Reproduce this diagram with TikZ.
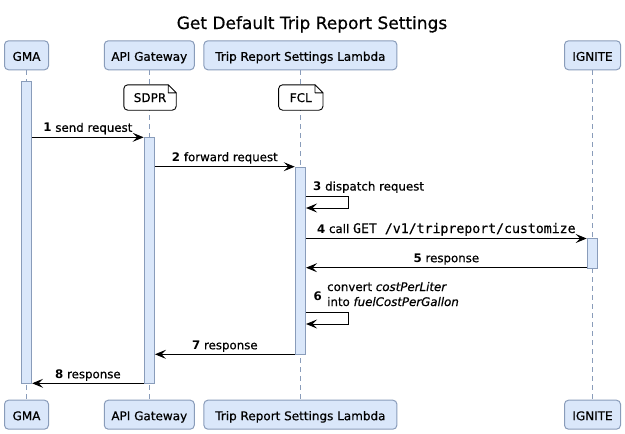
\documentclass[tikz,border=0pt]{standalone}
\usepackage{fontspec}
\setmainfont[FakeBold=0.6,BoldFont={DejaVu Sans Bold},BoldFeatures={FakeBold=0},ItalicFont={DejaVu Sans Oblique},ItalicFeatures={FakeBold=0.6}]{DejaVu Sans}
\setmonofont[FakeBold=0.5]{DejaVu Sans Mono}
\usetikzlibrary{arrows.meta}
\definecolor{pfill}{RGB}{218,231,250}
\definecolor{pline}{RGB}{137,156,186}
\begin{document}
\begin{tikzpicture}[x=1pt,y=-1pt,
  part/.style={draw=pline, fill=pfill, line width=1pt, rounded corners=4pt,
    minimum height=29pt, inner sep=0pt, text height=11pt, text depth=0pt,
    font=\fontsize{12}{14}\selectfont},
  life/.style={draw=pline, line width=0.8pt, dash pattern=on 5pt off 4pt},
  actbar/.style={draw=pline, fill=pfill, line width=0.8pt, minimum width=10.5pt,
    inner sep=0pt, anchor=north},
  msg/.style={draw=black, line width=0.9pt, -{Stealth[length=11pt,width=9pt,inset=4.5pt]}},
  lab/.style={font=\fontsize{11.8}{14}\selectfont, anchor=base, inner sep=0pt},
  notebox/.style={fill=white, inner sep=0pt, minimum height=25pt, text height=9pt,
    text depth=0pt, font=\fontsize{12}{14}\selectfont},
  noteline/.style={draw=black, line width=0.9pt},
]
\useasboundingbox (0,0) rectangle (625,434);

\node[font=\fontsize{17}{20}\selectfont, anchor=base, inner sep=0pt] (title) at (312,29) {Get Default Trip Report Settings};

% participants
\node[part, minimum width=44pt] (gmat) at (26.5,55.3) {GMA};
\node[part, minimum width=90pt] (apit) at (149.3,55.3) {API Gateway};
\node[part, minimum width=193pt] (lamt) at (300.4,55.3) {Trip Report Settings Lambda};
\node[part, minimum width=56pt] (ignt) at (592.5,55.3) {IGNITE};
\node[part, minimum width=44pt] (gmab) at (26.5,414.7) {GMA};
\node[part, minimum width=90pt] (apib) at (149.3,414.7) {API Gateway};
\node[part, minimum width=193pt] (lamb) at (300.4,414.7) {Trip Report Settings Lambda};
\node[part, minimum width=56pt] (ignb) at (592.5,414.7) {IGNITE};

% lifelines
\draw[life] (gmat.south) -- (gmab.north);
\draw[life] (apit.south) -- (apib.north);
\draw[life] (lamt.south) -- (lamb.north);
\draw[life] (ignt.south) -- (ignb.north);

% activation bars
\node[actbar, minimum height=302pt] (gmabar) at (26.5,81) {};
\node[actbar, minimum height=246pt] (apibar) at (149.3,137.3) {};
\node[actbar, minimum height=187.6pt] (lambar) at (300.4,166.7) {};
\node[actbar, minimum height=29.4pt] (ignbar) at (592.3,238.3) {};

% notes
\node[notebox, minimum width=52pt] (sdpr) at (150,97.5) {SDPR};
\draw[noteline, rounded corners=4pt] ([xshift=-8pt]sdpr.north east) -- (sdpr.north west)
  -- (sdpr.south west) -- (sdpr.south east) -- ([yshift=-8pt]sdpr.north east);
\draw[noteline, line join=round] ([xshift=-8pt]sdpr.north east) -- ([yshift=-8pt]sdpr.north east)
  -- ([xshift=-8pt,yshift=-8pt]sdpr.north east) -- cycle;
\node[notebox, minimum width=44pt] (fcl) at (300.8,97.5) {FCL};
\draw[noteline, rounded corners=4pt] ([xshift=-8pt]fcl.north east) -- (fcl.north west)
  -- (fcl.south west) -- (fcl.south east) -- ([yshift=-8pt]fcl.north east);
\draw[noteline, line join=round] ([xshift=-8pt]fcl.north east) -- ([yshift=-8pt]fcl.north east)
  -- ([xshift=-8pt,yshift=-8pt]fcl.north east) -- cycle;

% message rows
\coordinate (r1) at (0,137.3);
\coordinate (r2) at (0,166.7);
\coordinate (r3a) at (348,196);
\coordinate (r3b) at (348,208);
\coordinate (r4) at (0,238.5);
\coordinate (r5) at (0,267.7);
\coordinate (r6a) at (348,312);
\coordinate (r6b) at (348,324);
\coordinate (r7) at (0,354.3);
\coordinate (r8) at (0,383.3);

\draw[msg] (gmabar.east |- r1) -- node[lab, yshift=5.5pt] {\textbf{1} send request} (apibar.west |- r1);
\draw[msg] (apibar.east |- r2) -- node[lab, yshift=5.5pt] {\textbf{2} forward request} (lambar.west |- r2);
\draw[msg] (lambar.east |- r3a) -- (r3a) -- (r3b) -- (lambar.east |- r3b);
\node[lab, anchor=base west] (l3) at (313,190.5) {\textbf{3} dispatch request};
\draw[msg] (lambar.east |- r4) -- node[lab, yshift=5.5pt] {\textbf{4} call {\fontsize{13.2}{14}\ttfamily GET /v1/tripreport/customize}} (ignbar.west |- r4);
\draw[msg] (ignbar.west |- r5) -- node[lab, yshift=5.5pt] {\textbf{5} response} (lambar.east |- r5);
\node[lab, anchor=base west] (l6n) at (313.5,300) {\textbf{6}};
\node[lab, anchor=base west] (l6a) at (327,291) {convert \textit{costPerLiter}};
\node[lab, anchor=base west] (l6b) at (327,306) {into \textit{fuelCostPerGallon}};
\draw[msg] (lambar.east |- r6a) -- (r6a) -- (r6b) -- (lambar.east |- r6b);
\draw[msg] (lambar.west |- r7) -- node[lab, yshift=5pt] {\textbf{7} response} (apibar.east |- r7);
\draw[msg] (apibar.west |- r8) -- node[lab, yshift=5pt] {\textbf{8} response} (gmabar.east |- r8);
\end{tikzpicture}
\end{document}
